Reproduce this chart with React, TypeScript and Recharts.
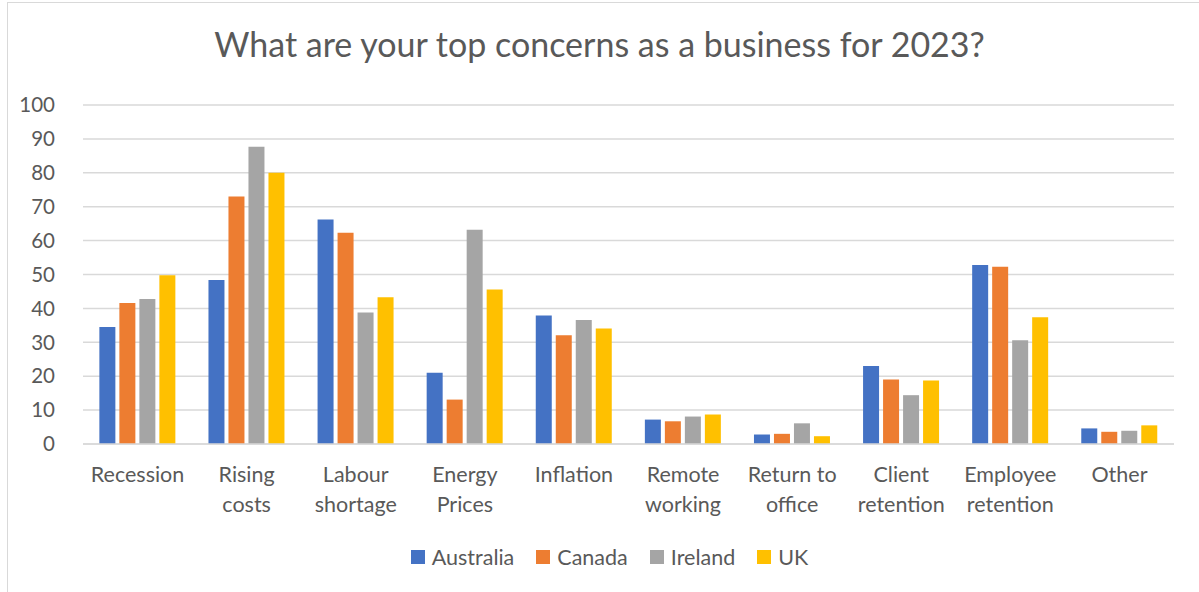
import React from "react";
import { Bar, BarChart, CartesianGrid, Legend, XAxis, YAxis } from "recharts";

const categories = [
  "Recession",
  "Rising\ncosts",
  "Labour\nshortage",
  "Energy\nPrices",
  "Inflation",
  "Remote\nworking",
  "Return to\noffice",
  "Client\nretention",
  "Employee\nretention",
  "Other",
];

const australia = [34.5, 48.4, 66.2, 21, 37.9, 7.2, 2.8, 23, 52.8, 4.6];
const canada = [41.6, 73, 62.3, 13.1, 32.1, 6.7, 3, 19, 52.3, 3.6];
const ireland = [42.8, 87.7, 38.8, 63.2, 36.6, 8.1, 6.1, 14.4, 30.6, 3.9];
const uk = [49.8, 80, 43.3, 45.6, 34.1, 8.7, 2.3, 18.7, 37.4, 5.5];

const yTicks = [0, 10, 20, 30, 40, 50, 60, 70, 80, 90, 100];

const series = [
  { key: "Australia", color: "#4472c4" },
  { key: "Canada", color: "#ed7d31" },
  { key: "Ireland", color: "#a5a5a5" },
  { key: "UK", color: "#ffc000" },
];

const data = categories.map((name, i) => ({
  name,
  Australia: australia[i],
  Canada: canada[i],
  Ireland: ireland[i],
  UK: uk[i],
}));

const FONT = "Lato, 'Open Sans', sans-serif";
const TEXT = "#595959";

function CategoryTick(props: any) {
  const { x, y, payload } = props;
  const lines = String(payload.value).split("\n");
  return (
    <text
      x={x}
      y={y}
      textAnchor="middle"
      fill={TEXT}
      fontSize={21.5}
      fontFamily={FONT}
    >
      {lines.map((line, i) => (
        <tspan key={i} x={x} dy={i === 0 ? 30 : 30}>
          {line}
        </tspan>
      ))}
    </text>
  );
}

function LegendContent(props: any) {
  const items = props.payload || [];
  return (
    <div
      style={{
        display: "flex",
        justifyContent: "center",
        gap: 22,
        paddingLeft: 20,
        fontFamily: FONT,
        fontSize: 21.5,
        color: TEXT,
      }}
    >
      {items.map((it: any) => (
        <div key={it.value} style={{ display: "flex", alignItems: "center" }}>
          <span
            style={{
              width: 14,
              height: 14,
              background: it.color,
              display: "inline-block",
              marginRight: 7,
            }}
          />
          <span>{it.value}</span>
        </div>
      ))}
    </div>
  );
}

export default function App() {
  return (
    <div
      style={{
        position: "absolute",
        left: 0,
        top: 0,
        width: 1199,
        height: 592,
        background: "#fff",
        overflow: "hidden",
      }}
    >
      <div
        style={{
          position: "absolute",
          left: 7,
          top: 2,
          width: 1210,
          height: 610,
          border: "1px solid #d9d9d9",
        }}
      />
      <div
        style={{
          position: "absolute",
          top: 23,
          left: 0,
          width: 1199,
          textAlign: "center",
          fontFamily: FONT,
          fontSize: 34,
          color: TEXT,
        }}
      >
        What are your top concerns as a business for 2023?
      </div>
      <div style={{ position: "absolute", left: 0, top: 0 }}>
        <BarChart
          width={1199}
          height={592}
          data={data}
          margin={{ top: 105, right: 25, bottom: 78, left: 0 }}
          barCategoryGap="15%"
          barGap={4}
        >
          <CartesianGrid
            vertical={false}
            stroke="#d9d9d9"
            strokeWidth={1.5}
          />
          <XAxis
            dataKey="name"
            height={70}
            axisLine={{ stroke: "#d9d9d9", strokeWidth: 1.5 }}
            tickLine={false}
            interval={0}
            tick={<CategoryTick />}
          />
          <YAxis
            width={83}
            domain={[0, 100]}
            ticks={yTicks}
            axisLine={false}
            tickLine={false}
            tickMargin={22}
            tick={{ fill: TEXT, fontSize: 20.5, fontFamily: FONT }}
          />
          <Legend
            verticalAlign="middle"
            align="center"
            content={<LegendContent />}
            wrapperStyle={{ top: 544, left: 0, width: 1199 }}
          />
          {series.map((s) => (
            <Bar
              key={s.key}
              dataKey={s.key}
              fill={s.color}
              isAnimationActive={false}
            />
          ))}
        </BarChart>
      </div>
    </div>
  );
}
